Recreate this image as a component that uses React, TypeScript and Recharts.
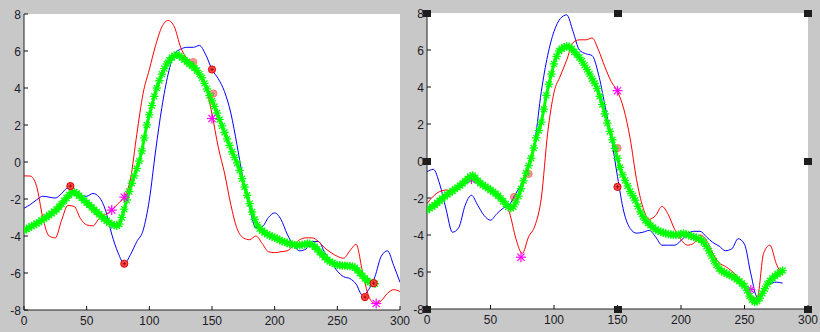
import { LineChart, Line, XAxis, YAxis, CartesianGrid } from "recharts";

// tick labels
const xTicks = [0, 50, 100, 150, 200, 250, 300];
const yTicks = [-8, -6, -4, -2, 0, 2, 4, 6, 8];

// curves are sampled every 5 units of x, the starred trace every 2
const LINE_STEP = 5;
const STAR_STEP = 2;

// ---- left panel ----
const leftBlue = [
  -2.5, -2.3, -2.05, -1.85, -1.9, -1.95, -1.7, -1.4, -1.6, -1.85, -1.85, -1.7, -1.9, -2.6, -3.9, -4.9,
  -5.5, -5.0, -4.3, -3.7, -2.05, 0.6, 2.95, 4.75, 5.85, 6.1, 6.2, 6.2, 6.3, 5.8, 5.0, 4.5, 3.8, 2.65,
  0.9, -1.0, -2.5, -3.55, -3.5, -3.0, -2.75, -3.1, -3.9, -4.5, -4.8, -4.7, -4.3, -4.3, -4.9, -5.4, -5.9,
  -6.2, -6.3, -6.6, -7.2, -6.9, -6.2, -5.1, -4.8, -5.6, -6.5,
];
const leftRed = [
  -0.75, -0.76, -1.3, -3.0, -4.0, -4.1, -3.15, -2.35, -2.4, -3.05, -3.4, -3.45, -3.05, -2.85, -2.6,
  -2.25, -1.9, -0.9, 1.5, 3.7, 5.0, 6.3, 7.3, 7.65, 7.3, 6.2, 5.6, 5.3, 4.8, 4.1, 2.6, 0.8, -0.6, -2.3,
  -3.6, -4.1, -4.2, -4.0, -4.4, -4.85, -4.9, -4.85, -4.8, -4.5, -4.2, -4.1, -4.1, -4.3, -4.65, -4.9,
  -5.1, -5.2, -4.8, -4.45, -5.9, -7.25, -7.65, -7.5, -7.1, -6.9, -7.0,
];
const leftGreen = [
  -3.7, -3.62, -3.55, -3.47, -3.4, -3.32, -3.25, -3.15, -3.07, -2.97, -2.88, -2.78, -2.68, -2.57, -2.42,
  -2.27, -2.1, -1.95, -1.78, -1.65, -1.62, -1.7, -1.82, -1.95, -2.08, -2.2, -2.32, -2.45, -2.58, -2.7,
  -2.83, -2.95, -3.08, -3.18, -3.28, -3.36, -3.42, -3.45, -3.35, -3.0, -2.55, -2.05, -1.6, -1.15, -0.75,
  -0.35, 0.05, 0.6, 1.3, 2.0, 2.55, 3.05, 3.55, 4.0, 4.4, 4.75, 5.05, 5.3, 5.5, 5.65, 5.75, 5.8, 5.75,
  5.65, 5.52, 5.42, 5.3, 5.2, 5.08, 4.95, 4.75, 4.55, 4.25, 3.95, 3.6, 3.3, 3.0, 2.65, 2.3, 1.95, 1.6,
  1.25, 0.9, 0.55, 0.25, -0.05, -0.45, -0.9, -1.35, -1.8, -2.25, -2.7, -3.1, -3.4, -3.6, -3.72, -3.82,
  -3.9, -3.97, -4.03, -4.1, -4.15, -4.22, -4.28, -4.33, -4.38, -4.42, -4.45, -4.48, -4.5, -4.5, -4.48,
  -4.45, -4.42, -4.42, -4.48, -4.58, -4.72, -4.88, -5.02, -5.15, -5.28, -5.38, -5.45, -5.52, -5.56,
  -5.58, -5.6, -5.6, -5.62, -5.63, -5.65, -5.72, -5.85, -6.0, -6.15, -6.3, -6.42, -6.5, -6.55, -6.58,
];
const leftCircleBackX = [135, 151];
const leftCircleBackY = [5.4, 3.7];
const leftCircleX = [37, 80, 150, 272, 279];
const leftCircleY = [-1.3, -5.5, 5.0, -7.3, -6.55];
const leftStarX = [70, 80, 150, 281];
const leftStarY = [-2.6, -1.9, 2.35, -7.65];

// ---- right panel ----
const rightBlue = [
  -0.58, -0.45, -1.25, -2.6, -3.85, -3.6, -2.4, -1.85, -2.4, -2.95, -3.2, -2.85, -2.55, -2.35, -1.75,
  -1.15, -0.35, 1.1, 3.75, 5.7, 7.0, 7.7, 7.9, 7.0, 6.0, 5.8, 5.7, 4.7, 3.05, 1.3, -0.85, -2.75, -3.65,
  -3.9, -3.85, -3.75, -4.1, -4.55, -4.55, -4.55, -4.3, -3.95, -3.8, -3.8, -4.1, -4.4, -4.6, -4.85,
  -4.75, -4.2, -4.5, -6.1, -7.35, -7.05, -6.65, -6.55, -6.6,
];
const rightRed = [
  -2.3, -1.9, -1.65, -1.57, -1.6, -1.4, -1.1, -0.85, -1.0, -1.3, -1.6, -1.85, -2.1, -2.8, -4.2, -5.0,
  -4.1, -3.5, -2.0, 1.5, 3.7, 4.6, 5.45, 6.4, 6.55, 6.55, 6.65, 6.0, 5.1, 4.3, 3.76, 2.8, 1.2, -1.0,
  -2.5, -3.15, -2.95, -2.45, -2.9, -3.7, -4.25, -4.55, -4.45, -4.0, -4.28, -5.0, -5.5, -5.7, -5.95,
  -6.3, -6.75, -7.3, -7.4, -5.0, -4.55, -5.55, -6.2,
];
const rightGreen = [
  -2.65, -2.56, -2.47, -2.38, -2.27, -2.15, -2.03, -1.92, -1.81, -1.72, -1.62, -1.52, -1.43, -1.33,
  -1.22, -1.1, -0.97, -0.84, -0.78, -0.92, -1.07, -1.2, -1.3, -1.38, -1.47, -1.57, -1.66, -1.76, -1.88,
  -2.02, -2.18, -2.33, -2.48, -2.56, -2.47, -2.22, -1.9, -1.5, -1.07, -0.65, -0.25, 0.15, 0.7, 1.25,
  1.65, 2.1, 2.8, 3.55, 4.15, 4.7, 5.25, 5.65, 5.95, 6.07, 6.15, 6.2, 6.18, 6.05, 5.9, 5.75, 5.6, 5.4,
  5.18, 4.95, 4.7, 4.45, 4.2, 3.92, 3.5, 3.05, 2.55, 2.05, 1.6, 1.15, 0.68, 0.15, -0.35, -0.75, -1.05,
  -1.35, -1.65, -1.88, -2.12, -2.45, -2.75, -3.0, -3.2, -3.35, -3.48, -3.6, -3.7, -3.77, -3.83, -3.88,
  -3.92, -3.95, -3.97, -3.99, -4.0, -3.98, -3.94, -3.92, -3.96, -4.01, -4.06, -4.1, -4.15, -4.21, -4.27,
  -4.4, -4.62, -4.86, -5.13, -5.4, -5.62, -5.82, -5.95, -6.03, -6.1, -6.16, -6.22, -6.3, -6.4, -6.5,
  -6.62, -6.76, -7.0, -7.3, -7.5, -7.62, -7.58, -7.42, -7.15, -6.9, -6.66, -6.48, -6.34, -6.22, -6.11,
  -6.02, -5.92,
];
const rightCircleBackX = [68.5, 80, 150];
const rightCircleBackY = [-1.95, -0.7, 0.7];
const rightCircleX = [150];
const rightCircleY = [-1.4];
const rightStarBackX = [35, 255];
const rightStarBackY = [-1.0, -6.95];
const rightStarX = [74, 150];
const rightStarY = [-5.2, 3.8];

const sampled = (ys: number[], step: number) => ys.map((y, i) => ({ x: i * step, y }));
const pairs = (xs: number[], ys: number[]) => xs.map((x, i) => ({ x, y: ys[i] }));

const labelStyle = { fontFamily: "'Liberation Sans', Arial, sans-serif", fontSize: 12, fill: "#1a1a26" };
const TICK = 4;

const BottomTick = ({ x, y, payload }: any) => (
  <g>
    <line x1={x} y1={y} x2={x} y2={y - TICK} stroke="#111" />
    <text x={x} y={y + 15} textAnchor="middle" style={labelStyle}>{payload.value}</text>
  </g>
);
const TopTick = ({ x, y }: any) => <line x1={x} y1={y} x2={x} y2={y + TICK} stroke="#111" />;
const LeftTick = ({ x, y, payload }: any) => (
  <g>
    <line x1={x} y1={y} x2={x + TICK} y2={y} stroke="#111" />
    <text x={x - 3} y={y + 5} textAnchor="end" style={labelStyle}>{payload.value}</text>
  </g>
);
const RightTick = ({ x, y }: any) => <line x1={x} y1={y} x2={x - TICK} y2={y} stroke="#111" />;

const starDot = (color: string, r: number, w: number) => (p: any) => {
  const { cx, cy, index } = p;
  if (cx == null || cy == null) return <g key={`n-${index}`} />;
  const d = r * 0.72;
  return (
    <g key={`${color}-${index}`} stroke={color} strokeWidth={w}>
      <line x1={cx - r} y1={cy} x2={cx + r} y2={cy} />
      <line x1={cx} y1={cy - r} x2={cx} y2={cy + r} />
      <line x1={cx - d} y1={cy - d} x2={cx + d} y2={cy + d} />
      <line x1={cx - d} y1={cy + d} x2={cx + d} y2={cy - d} />
    </g>
  );
};

const circleDot = (opacity: number) => (p: any) => {
  const { cx, cy, index } = p;
  if (cx == null || cy == null) return <g key={`n-${index}`} />;
  return (
    <g key={`c-${index}`} opacity={opacity}>
      <circle cx={cx} cy={cy} r={3.6} fill="#ff4a4a" stroke="#e00000" strokeWidth={1} />
      <line x1={cx - 1.8} y1={cy} x2={cx + 1.8} y2={cy} stroke="#8a0000" strokeWidth={0.8} />
      <line x1={cx} y1={cy - 1.8} x2={cx} y2={cy + 1.8} stroke="#8a0000" strokeWidth={0.8} />
    </g>
  );
};

type PanelProps = {
  left: number;
  top: number;
  margin: { top: number; right: number; left: number; bottom: number };
  yAxisWidth: number;
  xAxisHeight: number;
  blue: number[];
  red: number[];
  green: number[];
  circlesBack: { x: number; y: number }[];
  circles: { x: number; y: number }[];
  starsBack: { x: number; y: number }[];
  stars: { x: number; y: number }[];
};

const W = 410;
const H = 332;

const Panel = (p: PanelProps) => {
  const greenPts = sampled(p.green, STAR_STEP);
  return (
    <div style={{ position: "absolute", left: p.left, top: p.top }}>
      <LineChart width={W} height={H} margin={p.margin}>
        <CartesianGrid fill="#ffffff" horizontal={false} vertical={false} />
        <XAxis
          type="number"
          dataKey="x"
          domain={[0, 300]}
          ticks={xTicks}
          allowDataOverflow
          height={p.xAxisHeight}
          tickSize={0}
          tickMargin={0}
          axisLine={{ stroke: "#222" }}
          tickLine={false}
          tick={BottomTick}
          interval={0}
        />
        <XAxis
          xAxisId="top"
          orientation="top"
          type="number"
          dataKey="x"
          domain={[0, 300]}
          ticks={xTicks}
          height={0}
          tickSize={0}
          tickMargin={0}
          axisLine={{ stroke: "#222" }}
          tickLine={false}
          tick={TopTick}
          interval={0}
        />
        <YAxis
          type="number"
          domain={[-8, 8]}
          ticks={yTicks}
          allowDataOverflow
          width={p.yAxisWidth}
          tickSize={0}
          tickMargin={0}
          axisLine={{ stroke: "#222" }}
          tickLine={false}
          tick={LeftTick}
          interval={0}
        />
        <YAxis
          yAxisId="right"
          orientation="right"
          type="number"
          domain={[-8, 8]}
          ticks={yTicks}
          width={0}
          tickSize={0}
          tickMargin={0}
          axisLine={{ stroke: "#222" }}
          tickLine={false}
          tick={RightTick}
          interval={0}
        />
        <Line data={sampled(p.blue, LINE_STEP)} dataKey="y" type="monotone" stroke="#0000ff" strokeWidth={1} dot={false} activeDot={false} isAnimationActive={false} />
        <Line data={sampled(p.red, LINE_STEP)} dataKey="y" type="monotone" stroke="#ff0000" strokeWidth={1} dot={false} activeDot={false} isAnimationActive={false} />
        <Line data={p.circlesBack} dataKey="y" stroke="none" dot={circleDot(0.55)} activeDot={false} isAnimationActive={false} />
        <Line data={p.starsBack} dataKey="y" stroke="none" dot={starDot("#ff00ff", 4.5, 1.2)} activeDot={false} isAnimationActive={false} />
        <Line data={greenPts} dataKey="y" type="monotone" stroke="#00ff00" strokeWidth={3} dot={false} activeDot={false} isAnimationActive={false} />
        <Line data={greenPts} dataKey="y" stroke="none" dot={starDot("#00ff00", 4.2, 1.3)} activeDot={false} isAnimationActive={false} />
        <Line data={p.circles} dataKey="y" stroke="none" dot={circleDot(1)} activeDot={false} isAnimationActive={false} />
        <Line data={p.stars} dataKey="y" stroke="none" dot={starDot("#ff00ff", 5, 1.2)} activeDot={false} isAnimationActive={false} />
      </LineChart>
    </div>
  );
};

// selection handles around the right panel's plot box
const Handle = ({ x, y }: { x: number; y: number }) => (
  <div style={{ position: "absolute", left: x - 4, top: y - 3, width: 8, height: 7, background: "#1e1e1e" }} />
);

export default function App() {
  const rPlotL = 410 + 17;
  const rPlotR = 820 - 12;
  const rPlotT = 13;
  const rPlotB = 332 - 23;
  const midX = (rPlotL + rPlotR) / 2;
  const midY = (rPlotT + rPlotB) / 2;
  const handles = [
    [rPlotL, rPlotT], [midX, rPlotT], [rPlotR, rPlotT],
    [rPlotL, midY], [rPlotR, midY],
    [rPlotL, rPlotB], [midX, rPlotB], [rPlotR, rPlotB],
  ];
  return (
    <div style={{ position: "fixed", left: 0, top: 0, width: 820, height: 332, background: "#c8c8c8", overflow: "hidden" }}>
      <Panel
        left={0}
        top={0}
        margin={{ top: 14, right: 10, left: 0, bottom: 0 }}
        yAxisWidth={24}
        xAxisHeight={22}
        blue={leftBlue}
        red={leftRed}
        green={leftGreen}
        circlesBack={pairs(leftCircleBackX, leftCircleBackY)}
        circles={pairs(leftCircleX, leftCircleY)}
        starsBack={[]}
        stars={pairs(leftStarX, leftStarY)}
      />
      <Panel
        left={410}
        top={0}
        margin={{ top: 13, right: 12, left: 0, bottom: 0 }}
        yAxisWidth={17}
        xAxisHeight={23}
        blue={rightBlue}
        red={rightRed}
        green={rightGreen}
        circlesBack={pairs(rightCircleBackX, rightCircleBackY)}
        circles={pairs(rightCircleX, rightCircleY)}
        starsBack={pairs(rightStarBackX, rightStarBackY)}
        stars={pairs(rightStarX, rightStarY)}
      />
      {handles.map(([x, y], i) => (
        <Handle key={i} x={x} y={y} />
      ))}
    </div>
  );
}
